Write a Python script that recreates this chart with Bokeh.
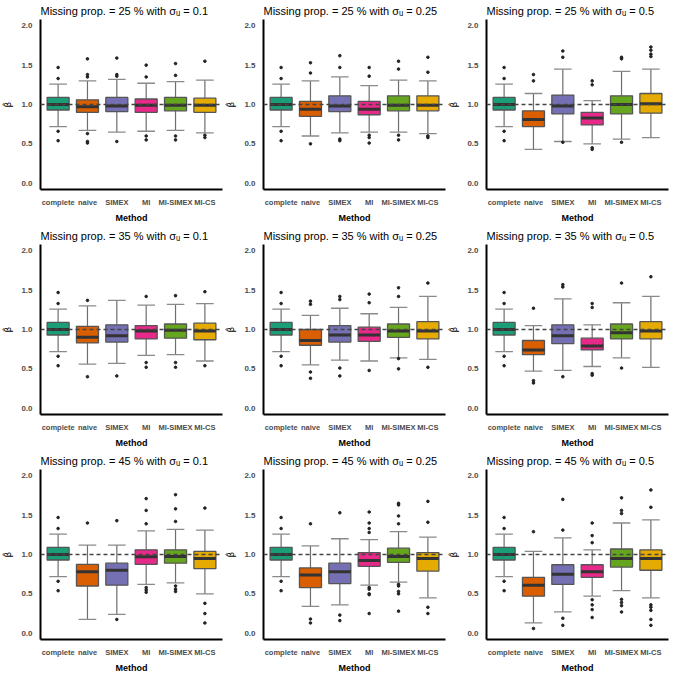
from bokeh.plotting import figure
from bokeh.layouts import gridplot
from bokeh.models import Range1d, FixedTicker, PrintfTickFormatter, Span, ColumnDataSource
from bokeh.embed import file_html
from bokeh.resources import INLINE

METHODS = ["complete", "naive", "SIMEX", "MI", "MI-SIMEX", "MI-CS"]
COLORS = ["#1B9E77", "#D95F02", "#7570B3", "#E7298A", "#66A61E", "#E6AB02"]
Y_TICKS = [0.0, 0.5, 1.0, 1.5, 2.0]
TRUE_BETA = 1.0
MISSING = ["25", "35", "45"]
SIGMA = ["0.1", "0.25", "0.5"]

# complete-data boxplot (same in every panel)
C_LO, C_Q1, C_MED, C_Q3, C_HI = 0.72, 0.93, 1.00, 1.09, 1.26
C_OUT = [1.47, 1.33, 0.66, 0.54]

# ---- 25 %, sigma 0.1
m25_s01_lo = [C_LO, 0.67, 0.65, 0.66, 0.67, 0.64]
m25_s01_q1 = [C_Q1, 0.90, 0.91, 0.90, 0.92, 0.90]
m25_s01_med = [C_MED, 0.97, 0.98, 0.99, 0.99, 0.99]
m25_s01_q3 = [C_Q3, 1.06, 1.09, 1.07, 1.09, 1.08]
m25_s01_hi = [C_HI, 1.30, 1.32, 1.27, 1.29, 1.31]
m25_s01_out = [C_OUT, [1.58, 1.38, 1.35, 0.63, 0.53, 0.51], [1.59, 1.38, 1.36, 0.53],
               [1.50, 1.35, 0.60, 0.55], [1.52, 1.37, 0.60, 0.55], [1.55, 0.61, 0.58]]
# ---- 25 %, sigma 0.25
m25_s025_lo = [C_LO, 0.60, 0.64, 0.65, 0.65, 0.63]
m25_s025_q1 = [C_Q1, 0.85, 0.91, 0.87, 0.92, 0.92]
m25_s025_med = [C_MED, 0.94, 0.98, 0.94, 0.99, 0.99]
m25_s025_q3 = [C_Q3, 1.04, 1.11, 1.04, 1.11, 1.11]
m25_s025_hi = [C_HI, 1.30, 1.35, 1.24, 1.31, 1.30]
m25_s025_out = [C_OUT, [1.53, 1.40, 0.50], [1.62, 1.47, 0.56, 0.54],
                [1.47, 1.36, 0.61, 0.58, 0.51], [1.55, 1.45, 0.61, 0.55], [1.60, 1.41, 0.60, 0.58]]
# ---- 25 %, sigma 0.5
m25_s05_lo = [C_LO, 0.43, 0.53, 0.50, 0.56, 0.58]
m25_s05_q1 = [C_Q1, 0.72, 0.88, 0.74, 0.88, 0.89]
m25_s05_med = [C_MED, 0.81, 0.98, 0.83, 1.00, 1.01]
m25_s05_q3 = [C_Q3, 0.92, 1.12, 0.90, 1.11, 1.14]
m25_s05_hi = [C_HI, 1.14, 1.45, 1.05, 1.42, 1.45]
m25_s05_out = [C_OUT, [1.38, 1.30], [1.68, 1.60, 0.52], [1.30, 1.25, 0.45, 0.43],
               [1.60, 1.58, 0.52], [1.73, 1.69, 1.64, 1.61]]
# ---- 35 %, sigma 0.1
m35_s01_lo = [C_LO, 0.56, 0.57, 0.67, 0.68, 0.60]
m35_s01_q1 = [C_Q1, 0.83, 0.84, 0.88, 0.89, 0.87]
m35_s01_med = [C_MED, 0.90, 0.92, 0.98, 0.99, 0.98]
m35_s01_q3 = [C_Q3, 1.04, 1.06, 1.05, 1.07, 1.08]
m35_s01_hi = [C_HI, 1.30, 1.37, 1.31, 1.32, 1.33]
m35_s01_out = [C_OUT, [1.37, 0.40], [0.41], [1.42, 0.58, 0.52], [1.43, 0.58, 0.52], [1.48, 0.54]]
# ---- 35 %, sigma 0.25
m35_s025_lo = [C_LO, 0.55, 0.61, 0.60, 0.64, 0.62]
m35_s025_q1 = [C_Q1, 0.80, 0.84, 0.85, 0.90, 0.88]
m35_s025_med = [C_MED, 0.86, 0.93, 0.93, 0.98, 0.98]
m35_s025_q3 = [C_Q3, 1.00, 1.05, 1.03, 1.07, 1.10]
m35_s025_hi = [C_HI, 1.18, 1.27, 1.20, 1.28, 1.42]
m35_s025_out = [C_OUT, [1.36, 1.32, 0.46, 0.38], [1.42, 1.38, 0.51, 0.41], [1.45, 1.34, 0.48],
                [1.53, 1.42, 0.63, 0.50], [1.59, 0.52]]
# ---- 35 %, sigma 0.5
m35_s05_lo = [C_LO, 0.47, 0.48, 0.53, 0.64, 0.52]
m35_s05_q1 = [C_Q1, 0.68, 0.82, 0.74, 0.88, 0.88]
m35_s05_med = [C_MED, 0.74, 0.92, 0.79, 0.96, 0.98]
m35_s05_q3 = [C_Q3, 0.86, 1.06, 0.89, 1.07, 1.10]
m35_s05_hi = [C_HI, 1.05, 1.39, 1.06, 1.34, 1.42]
m35_s05_out = [C_OUT, [1.27, 0.35, 0.32], [1.57, 1.54, 0.40], [1.33, 1.28, 0.44, 0.42],
               [1.59, 0.51], [1.67]]
# ---- 45 %, sigma 0.1
m45_s01_lo = [C_LO, 0.175, 0.24, 0.62, 0.64, 0.50]
m45_s01_q1 = [C_Q1, 0.60, 0.61, 0.875, 0.89, 0.82]
m45_s01_med = [C_MED, 0.78, 0.80, 0.97, 0.975, 0.95]
m45_s01_q3 = [C_Q3, 0.875, 0.89, 1.06, 1.06, 1.04]
m45_s01_hi = [C_HI, 1.12, 1.12, 1.30, 1.32, 1.31]
m45_s01_out = [C_OUT, [1.40], [1.43, 0.175], [1.71, 1.56, 1.39, 0.58, 0.55, 0.52],
               [1.76, 1.58, 1.42, 0.60, 0.56, 0.53], [1.59, 0.38, 0.25, 0.13]]
# ---- 45 %, sigma 0.25
m45_s025_lo = [C_LO, 0.34, 0.36, 0.61, 0.65, 0.45]
m45_s025_q1 = [C_Q1, 0.58, 0.63, 0.85, 0.90, 0.79]
m45_s025_med = [C_MED, 0.74, 0.78, 0.925, 0.975, 0.95]
m45_s025_q3 = [C_Q3, 0.83, 0.89, 1.025, 1.08, 1.025]
m45_s025_hi = [C_HI, 1.11, 1.20, 1.19, 1.29, 1.22]
m45_s025_out = [C_OUT, [1.39, 0.18, 0.13], [1.53, 0.23, 0.16],
                [1.54, 1.40, 1.33, 1.28, 0.58, 0.56, 0.50, 0.49, 0.25],
                [1.65, 1.63, 1.49, 1.39, 0.62, 0.60, 0.53, 0.50, 0.28], [1.675, 1.41, 0.33, 0.25]]
# ---- 45 %, sigma 0.5
m45_s05_lo = [C_LO, 0.13, 0.27, 0.47, 0.54, 0.45]
m45_s05_q1 = [C_Q1, 0.47, 0.62, 0.71, 0.84, 0.80]
m45_s05_med = [C_MED, 0.61, 0.75, 0.78, 0.95, 0.95]
m45_s05_q3 = [C_Q3, 0.71, 0.87, 0.87, 1.07, 1.06]
m45_s05_hi = [C_HI, 1.04, 1.21, 1.06, 1.40, 1.44]
m45_s05_out = [C_OUT, [1.29, 0.06], [1.70, 1.31, 0.19, 0.10],
               [1.40, 1.24, 1.15, 0.425, 0.36, 0.30, 0.20],
               [1.72, 1.56, 1.52, 0.43, 0.39, 0.35, 0.27],
               [1.82, 1.60, 0.36, 0.33, 0.29, 0.175, 0.10]]

PANELS = [
    [(m25_s01_lo, m25_s01_q1, m25_s01_med, m25_s01_q3, m25_s01_hi, m25_s01_out),
     (m25_s025_lo, m25_s025_q1, m25_s025_med, m25_s025_q3, m25_s025_hi, m25_s025_out),
     (m25_s05_lo, m25_s05_q1, m25_s05_med, m25_s05_q3, m25_s05_hi, m25_s05_out)],
    [(m35_s01_lo, m35_s01_q1, m35_s01_med, m35_s01_q3, m35_s01_hi, m35_s01_out),
     (m35_s025_lo, m35_s025_q1, m35_s025_med, m35_s025_q3, m35_s025_hi, m35_s025_out),
     (m35_s05_lo, m35_s05_q1, m35_s05_med, m35_s05_q3, m35_s05_hi, m35_s05_out)],
    [(m45_s01_lo, m45_s01_q1, m45_s01_med, m45_s01_q3, m45_s01_hi, m45_s01_out),
     (m45_s025_lo, m45_s025_q1, m45_s025_med, m45_s025_q3, m45_s025_hi, m45_s025_out),
     (m45_s05_lo, m45_s05_q1, m45_s05_med, m45_s05_q3, m45_s05_hi, m45_s05_out)],
]

FONT = "Liberation Sans"
BOX_W = 0.75
CAP_W = 0.6


def make_panel(title, lo, q1, med, q3, hi, out):
    p = figure(width=223, height=225, output_backend="svg", toolbar_location=None,
               x_range=Range1d(0.4, len(METHODS) + 0.6), y_range=Range1d(-0.08, 2.08),
               min_border_left=29, min_border_right=1, min_border_top=4, min_border_bottom=2)
    p.title.text = title
    p.title.text_font = FONT
    p.title.text_font_size = "11px"
    p.title.text_font_style = "normal"
    p.title.text_color = "#000000"
    p.title.offset = 0
    p.title.standoff = 5
    p.outline_line_color = None
    p.xgrid.visible = False
    p.ygrid.visible = False
    p.background_fill_color = "white"
    p.border_fill_color = "white"

    xs = list(range(1, len(METHODS) + 1))
    src = ColumnDataSource(dict(x=xs, lo=lo, q1=q1, med=med, q3=q3, hi=hi, color=COLORS,
                                cl=[x - CAP_W / 2 for x in xs], cr=[x + CAP_W / 2 for x in xs],
                                bl=[x - BOX_W / 2 for x in xs], br=[x + BOX_W / 2 for x in xs]))
    # whiskers
    p.segment(x0="x", y0="q3", x1="x", y1="hi", source=src, line_color="#6E6E6E", line_width=1.2)
    p.segment(x0="x", y0="q1", x1="x", y1="lo", source=src, line_color="#6E6E6E", line_width=1.2)
    # caps
    p.segment(x0="cl", y0="hi", x1="cr", y1="hi", source=src, line_color="#8A8A8A", line_width=1.3)
    p.segment(x0="cl", y0="lo", x1="cr", y1="lo", source=src, line_color="#8A8A8A", line_width=1.3)
    # boxes
    p.vbar(x="x", width=BOX_W, bottom="q1", top="q3", source=src, fill_color="color",
           line_color="#555555", line_width=1.3)
    # medians
    p.segment(x0="bl", y0="med", x1="br", y1="med", source=src, line_color="#333333", line_width=3)
    # outliers
    ox, oy = [], []
    for i, vals in enumerate(out):
        for v in vals:
            ox.append(xs[i])
            oy.append(v)
    p.scatter(ox, oy, size=2.6, color="#222222")

    p.add_layout(Span(location=TRUE_BETA, dimension="width", line_color="#444444",
                      line_dash="4 3", line_width=1.4))

    p.xaxis.ticker = FixedTicker(ticks=xs)
    p.xaxis.major_label_overrides = {x: m for x, m in zip(xs, METHODS)}
    p.yaxis.ticker = FixedTicker(ticks=Y_TICKS)
    p.yaxis.formatter = PrintfTickFormatter(format="%.1f")
    p.xaxis.axis_label = "Method"
    p.yaxis.axis_label = "\u03b2\u0302"
    for ax in (p.xaxis[0], p.yaxis[0]):
        ax.axis_line_color = "black"
        ax.axis_line_width = 2
        ax.major_tick_line_color = None
        ax.minor_tick_line_color = None
        ax.major_label_text_font = FONT
        ax.major_label_text_font_style = "bold"
        ax.major_label_text_font_size = "7.5px"
        ax.major_label_text_color = "#4D4D4D"
        ax.axis_label_text_font = FONT
        ax.axis_label_text_font_style = "bold"
        ax.axis_label_text_font_size = "9px"
        ax.axis_label_text_color = "black"
        ax.major_label_standoff = 2
    p.yaxis.major_label_text_font_size = "8px"
    p.xaxis.axis_label_standoff = 3
    p.yaxis.axis_label_standoff = 5
    p.yaxis.axis_label_text_font = "DejaVu Sans"
    p.yaxis.axis_label_text_font_style = "normal"
    return p


rows = []
for r, mp in enumerate(MISSING):
    row = []
    for c, su in enumerate(SIGMA):
        lo, q1, med, q3, hi, out = PANELS[r][c]
        title = "Missing prop. = %s %% with \u03c3\u1d64 = %s" % (mp, su)
        row.append(make_panel(title, lo, q1, med, q3, hi, out))
    rows.append(row)

grid = gridplot(rows, toolbar_location=None)
open("out.html", "w").write(file_html(grid, INLINE))
